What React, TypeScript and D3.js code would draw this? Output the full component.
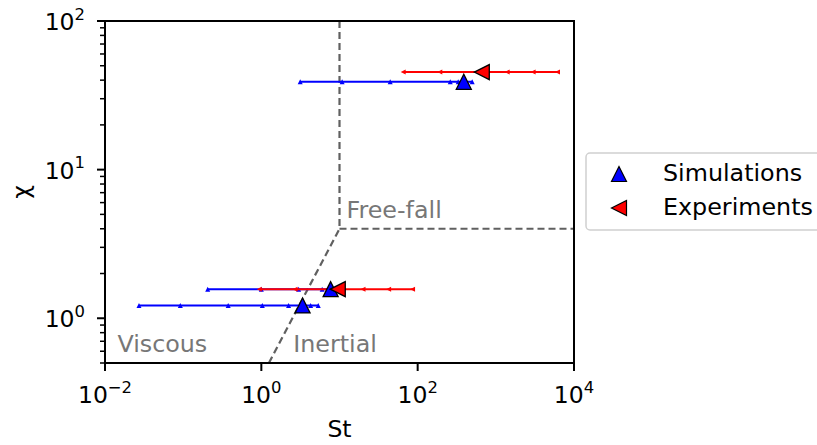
import React from "react";
import * as d3 from "d3";

// ---- data ----
const simSeries: { chi: number; st: number[]; mean: number }[] = [
  { chi: 39, st: [3.14, 10.8, 44.5, 261, 330, 498], mean: 389 },
  { chi: 1.57, st: [0.206, 1.0, 3.0, 6.0, 8.5], mean: 7.7 },
  { chi: 1.22, st: [0.0272, 0.092, 0.377, 1.03, 2.23, 4.27, 5.35], mean: 3.37 },
];
const expSeries: { chi: number; st: number[]; mean: number }[] = [
  { chi: 45.3, st: [65.3, 192, 1396, 3000, 6150], mean: 661 },
  { chi: 1.57, st: [0.94, 2.7, 20, 42.5, 86], mean: 9.5 },
];
const xTicks = [0.01, 1, 100, 10000];
const yTicks = [1, 10, 100];
const regimeLabels = [
  { text: "Free-fall", st: 12.3, chi: 4.7 },
  { text: "Viscous", st: 0.0144, chi: 0.596 },
  { text: "Inertial", st: 2.56, chi: 0.596 },
];
const legendItems = [
  { label: "Simulations", color: "#0000ff", dir: "up" },
  { label: "Experiments", color: "#ff0000", dir: "left" },
];

const W = 817;
const H = 445;
const FONT = "DejaVu Sans, Verdana, sans-serif";
const FS = 23.5;
const FS_TXT = 23.8;

function tri(cx: number, cy: number, size: number, dir: string) {
  const s = size / 2;
  if (dir === "up")
    return `M${cx},${cy - s}L${cx - s},${cy + s}L${cx + s},${cy + s}Z`;
  return `M${cx - s},${cy}L${cx + s},${cy - s}L${cx + s},${cy + s}Z`;
}

function expLabel(v: number) {
  return Math.round(Math.log10(v));
}

export default function App() {
  const x = d3.scaleLog().domain([0.01, 10000]).range([105, 574]);
  const y = d3.scaleLog().domain([0.5, 100]).range([363, 21]);
  const line = d3
    .line<number>()
    .x((d) => x(d))
    .y(() => 0);

  const yMinor: number[] = [];
  [0.1, 1, 10].forEach((dec) => {
    for (let k = 2; k <= 9; k++) {
      const v = dec * k;
      if (v >= 0.5 && v <= 100 && v !== 1 && v !== 10) yMinor.push(v);
    }
  });

  // dashed regime boundaries
  const stC = 10;
  const chiC = 4;
  const diag = d3
    .line<number>()
    .x((d) => x(d))
    .y((d) => y(0.4 * d));
  const diagPts = [0.5 / 0.4, stC];

  return (
    <svg width={W} height={H} style={{ position: "absolute", left: 0, top: 0 }}>
      <rect width={W} height={H} fill="white" />
      {/* dashed lines */}
      <g stroke="#606060" strokeWidth={2.2} strokeDasharray="7,4" fill="none">
        <line x1={x(stC)} x2={x(stC)} y1={y(100)} y2={y(chiC)} />
        <line x1={x(stC)} x2={x(10000)} y1={y(chiC)} y2={y(chiC)} />
        <path d={diag(diagPts) || ""} />
      </g>
      {regimeLabels.map((l) => (
        <text key={l.text} x={x(l.st)} y={y(l.chi)} fontFamily={FONT} fontSize={FS_TXT} fill="#777">
          {l.text}
        </text>
      ))}
      {/* series lines and small markers */}
      {simSeries.map((s, i) => (
        <g key={"s" + i} transform={`translate(0,${y(s.chi)})`}>
          <path d={line([d3.min(s.st)!, d3.max(s.st)!]) || ""} stroke="#0000ff" strokeWidth={2} fill="none" />
          {s.st.map((v, j) => (
            <path key={j} d={tri(x(v), 0, 5, "up")} fill="#0000ff" />
          ))}
        </g>
      ))}
      {expSeries.map((s, i) => (
        <g key={"e" + i} transform={`translate(0,${y(s.chi)})`}>
          <path d={line([d3.min(s.st)!, d3.max(s.st)!]) || ""} stroke="#ff0000" strokeWidth={2} fill="none" />
          {s.st.map((v, j) => (
            <path key={j} d={tri(x(v), 0, 5, "left")} fill="#ff0000" />
          ))}
        </g>
      ))}
      {/* big markers */}
      {simSeries.map((s, i) => (
        <path key={"sm" + i} d={tri(x(s.mean), y(s.chi), 15, "up")} fill="#0000ff" stroke="#000" strokeWidth={1.3} />
      ))}
      {expSeries.map((s, i) => (
        <path key={"em" + i} d={tri(x(s.mean), y(s.chi), 15, "left")} fill="#ff0000" stroke="#000" strokeWidth={1.3} />
      ))}
      {/* frame */}
      <rect x={105} y={21} width={574 - 105} height={363 - 21} fill="none" stroke="#000" strokeWidth={2} />
      {/* x ticks */}
      {xTicks.map((t) => (
        <g key={"xt" + t} transform={`translate(${x(t)},363)`}>
          <line y1={0} y2={8} stroke="#000" strokeWidth={2} />
          <text y={40} textAnchor="middle" fontFamily={FONT} fontSize={FS}>
            10
            <tspan dy={-10.5} fontSize={FS * 0.7}>
              {expLabel(t) < 0 ? "\u2212" + Math.abs(expLabel(t)) : expLabel(t)}
            </tspan>
          </text>
        </g>
      ))}
      {/* y ticks */}
      {yTicks.map((t) => (
        <g key={"yt" + t} transform={`translate(105,${y(t)})`}>
          <line x1={0} x2={-8} stroke="#000" strokeWidth={2} />
          <text x={-20} y={9} textAnchor="end" fontFamily={FONT} fontSize={FS}>
            10
            <tspan dy={-10.5} fontSize={FS * 0.7}>
              {expLabel(t)}
            </tspan>
          </text>
        </g>
      ))}
      {yMinor.map((t) => (
        <line key={"ym" + t} x1={105} x2={100} y1={y(t)} y2={y(t)} stroke="#000" strokeWidth={1.5} />
      ))}
      {/* axis labels */}
      <text x={339.5} y={437} textAnchor="middle" fontFamily={FONT} fontSize={FS}>
        St
      </text>
      <text
        transform={`translate(29,192) rotate(-90)`}
        textAnchor="middle"
        fontFamily={FONT}
        fontSize={FS}
      >
        χ
      </text>
      {/* legend */}
      <rect x={586} y={153} width={240} height={77} rx={4} fill="white" stroke="#d0d0d0" strokeWidth={1.5} />
      {legendItems.map((l, i) => (
        <g key={l.label}>
          <path d={tri(619, 174 + i * 34, 15, l.dir)} fill={l.color} stroke="#000" strokeWidth={1.2} />
          <text x={663} y={181 + i * 34} fontFamily={FONT} fontSize={FS_TXT}>
            {l.label}
          </text>
        </g>
      ))}
    </svg>
  );
}
